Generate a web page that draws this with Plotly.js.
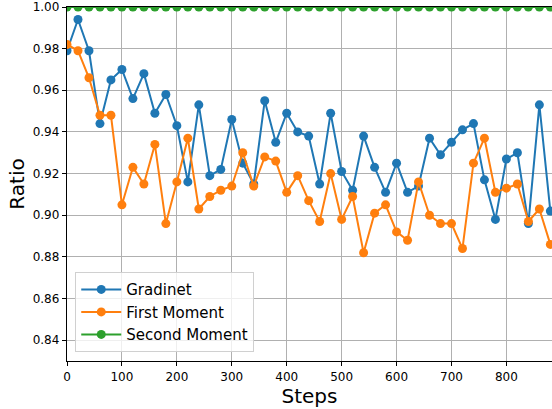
<!DOCTYPE html>
<html><head><meta charset="utf-8">
<script src="https://cdn.plot.ly/plotly-3.0.1.min.js"></script>
<style>html,body{margin:0;padding:0;background:#fff}#chart{width:552px;height:409px}</style>
</head><body><div id="chart"></div>
<script>
const steps = [0,20,40,60,80,100,120,140,160,180,200,220,240,260,280,300,320,340,360,380,400,420,440,460,480,500,520,540,560,580,600,620,640,660,680,700,720,740,760,780,800,820,840,860,880];
const gradinet = [0.979,0.994,0.979,0.944,0.965,0.970,0.956,0.968,0.949,0.958,0.943,0.916,0.953,0.919,0.922,0.946,0.925,0.915,0.955,0.935,0.949,0.940,0.938,0.915,0.949,0.921,0.912,0.938,0.923,0.911,0.925,0.911,0.914,0.937,0.929,0.935,0.941,0.944,0.917,0.898,0.927,0.930,0.896,0.953,0.902];
const firstMoment = [0.982,0.979,0.966,0.948,0.948,0.905,0.923,0.915,0.934,0.896,0.916,0.937,0.903,0.909,0.912,0.914,0.930,0.914,0.928,0.926,0.911,0.919,0.907,0.897,0.920,0.898,0.909,0.882,0.901,0.905,0.892,0.888,0.916,0.900,0.896,0.896,0.884,0.925,0.937,0.911,0.913,0.915,0.897,0.903,0.886];
const secondMoment = [1,1,1,1,1,1,1,1,1,1,1,1,1,1,1,1,1,1,1,1,1,1,1,1,1,1,1,1,1,1,1,1,1,1,1,1,1,1,1,1,1,1,1,1,1];
const seriesNames = ['Gradinet','First Moment','Second Moment'];
const xTicks = [0,100,200,300,400,500,600,700,800];
const yTicks = [0.84,0.86,0.88,0.90,0.92,0.94,0.96,0.98,1.00];
const colors = ['#1f77b4','#ff7f0e','#2ca02c'];
const ys = [gradinet, firstMoment, secondMoment];
const traces = ys.map((y,i)=>({
  x: steps, y: y, name: seriesNames[i], type:'scatter', mode:'lines+markers',
  line:{color:colors[i], width:2}, marker:{color:colors[i], size:9}, cliponaxis:true
}));
const font = "DejaVu Sans, sans-serif";
const layout = {
  width:552, height:409,
  margin:{l:67, r:0, t:7, b:48},
  paper_bgcolor:'#fff', plot_bgcolor:'#fff',
  font:{family:font, color:'#000'},
  showlegend:true,
  legend:{x:0.017, y:0.025, xanchor:'left', yanchor:'bottom', bgcolor:'rgba(255,255,255,0.8)', bordercolor:'#d0d0d0', borderwidth:1, itemwidth:40, font:{family:font, size:15, color:'#000'}, traceorder:'normal'},
  xaxis:{range:[0,883], tickvals:xTicks, ticktext:xTicks.map(String), showgrid:true, gridcolor:'#b0b0b0', gridwidth:1, zeroline:false,
    showline:true, linecolor:'#000', linewidth:1.2, mirror:true, ticks:'outside', ticklen:4, tickcolor:'#000',
    tickfont:{family:font, size:12}, title:{text:'Steps', font:{family:font, size:20}, standoff:4}},
  yaxis:{range:[0.83,1.0], tickvals:yTicks, ticktext:yTicks.map(v=>v.toFixed(2)), showgrid:true, gridcolor:'#b0b0b0', gridwidth:1, zeroline:false,
    showline:true, linecolor:'#000', linewidth:1.2, mirror:true, ticks:'outside', ticklen:4, tickcolor:'#000', ticklabeloverflow:'allow',
    tickfont:{family:font, size:12}, title:{text:'Ratio', font:{family:font, size:20}, standoff:2}}
};
Plotly.newPlot('chart', traces, layout, {staticPlot:true, displayModeBar:false});
</script></body></html>
